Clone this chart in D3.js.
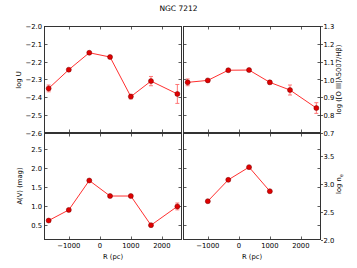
<!DOCTYPE html>
<html><head><meta charset="utf-8">
<script src="https://cdn.jsdelivr.net/npm/d3@7"></script>
<style>body{margin:0;background:#fff}svg{display:block}text{font-family:"DejaVu Sans",sans-serif;fill:#000}</style>
</head><body>
<svg id="c" width="357" height="268"></svg>
<script>
const title = "NGC 7212";
const xTicks = [-1000, 0, 1000, 2000];
const rAll = [-1650, -1000, -340, 330, 1000, 1650, 2500];
const logU = [-2.35, -2.245, -2.15, -2.174, -2.396, -2.309, -2.381];
const logUErr = [0.019, 0.005, 0.005, 0.005, 0.013, 0.026, 0.053];
const oiii = [0.984, 0.995, 1.052, 1.053, 0.984, 0.941, 0.84];
const oiiiErr = [0.019, 0.006, 0.006, 0.006, 0.01, 0.028, 0.03];
const av = [0.613, 0.893, 1.668, 1.259, 1.259, 0.49, 0.985];
const avErr = [0.03, 0.02, 0.02, 0.02, 0.02, 0.02, 0.09];
const rNe = [-1000, -340, 330, 1000];
const logNe = [2.689, 3.068, 3.294, 2.866];
const ticksU = [-2.0, -2.1, -2.2, -2.3, -2.4, -2.5, -2.6];
const ticksO = [0.7, 0.8, 0.9, 1.0, 1.1, 1.2, 1.3];
const ticksAV = [0.5, 1.0, 1.5, 2.0, 2.5];
const ticksNe = [2.0, 2.5, 3.0, 3.5];

const svg = d3.select("#c");
const L = {x0:44, x1:182}, R = {x0:183, x1:321};
const T = {y0:26, y1:133}, B = {y0:133, y1:240};
const xDom = [-1800, 2650];
const fs = 6.8;
const fmt = d => d3.format(".1f")(d).replace("-", "\u2212");
const fmtX = d => String(d).replace("-", "\u2212");

const yU = d3.scaleLinear().domain([-2.6, -2.0]).range([T.y1, T.y0]);
const yO = d3.scaleLinear().domain([0.7, 1.3]).range([T.y1, T.y0]);
const yAV = d3.scaleLinear().domain([0.1, 2.92]).range([B.y1, B.y0]);
const yNe = d3.scaleLinear().domain([2.0, 3.9]).range([B.y1, B.y0]);

function panel(H, V, yPrim, primTicks, showLeftLabels, yTwin, twinTicks, showXLabels) {
  const x = d3.scaleLinear().domain(xDom).range([H.x0, H.x1]);
  const g = svg.append("g");
  const tl = 3.5;
  xTicks.forEach(t => {
    const px = Math.round(x(t)) + 0.5;
    g.append("line").attr("x1", px).attr("x2", px).attr("y1", V.y1).attr("y2", V.y1 - tl).attr("stroke", "#333").attr("stroke-width", 0.8);
    g.append("line").attr("x1", px).attr("x2", px).attr("y1", V.y0).attr("y2", V.y0 + tl).attr("stroke", "#333").attr("stroke-width", 0.8);
  });
  primTicks.forEach(t => {
    const py = Math.round(yPrim(t)) + 0.5;
    g.append("line").attr("x1", H.x0).attr("x2", H.x0 + tl).attr("y1", py).attr("y2", py).attr("stroke", "#333").attr("stroke-width", 0.8);
    g.append("line").attr("x1", H.x1).attr("x2", H.x1 - tl).attr("y1", py).attr("y2", py).attr("stroke", "#333").attr("stroke-width", 0.8);
    if (showLeftLabels) {
      g.append("text").attr("x", H.x0 - 2).attr("y", py).attr("text-anchor", "end").attr("dominant-baseline", "central").attr("font-size", fs).text(fmt(t));
    }
  });
  if (yTwin) {
    twinTicks.forEach(t => {
      const py = Math.round(yTwin(t)) + 0.5;
      g.append("line").attr("x1", H.x1).attr("x2", H.x1 + 2).attr("y1", py).attr("y2", py).attr("stroke", "#333").attr("stroke-width", 0.8);
      g.append("text").attr("x", H.x1 + 2.5).attr("y", py).attr("dominant-baseline", "central").attr("font-size", fs).text(fmt(t));
    });
  }
  if (showXLabels) {
    xTicks.forEach(t => {
      g.append("text").attr("x", x(t)).attr("y", V.y1 + 8).attr("text-anchor", "middle").attr("font-size", fs).text(fmtX(t));
    });
    g.append("text").attr("x", (H.x0 + H.x1) / 2).attr("y", V.y1 + 18.5).attr("text-anchor", "middle").attr("font-size", fs).text("R (pc)");
  }
  g.append("rect").attr("x", H.x0 + 0.5).attr("y", V.y0 + 0.5).attr("width", H.x1 - H.x0 - 1).attr("height", V.y1 - V.y0 - 1)
    .attr("fill", "none").attr("stroke", "#333").attr("stroke-width", 1);
  return x;
}

function series(x, y, xs, ys, errs) {
  const g = svg.append("g");
  if (errs) {
    xs.forEach((xv, i) => {
      const e = errs[i];
      const px = x(xv);
      g.append("line").attr("x1", px).attr("x2", px).attr("y1", y(ys[i] - e)).attr("y2", y(ys[i] + e)).attr("stroke", "#f77").attr("stroke-width", 1);
      [ys[i] - e, ys[i] + e].forEach(v => {
        g.append("line").attr("x1", px - 2).attr("x2", px + 2).attr("y1", y(v)).attr("y2", y(v)).attr("stroke", "#f77").attr("stroke-width", 1);
      });
    });
  }
  const line = d3.line().x((d, i) => x(xs[i])).y(d => y(d));
  g.append("path").attr("d", line(ys)).attr("fill", "none").attr("stroke", "#ff3030").attr("stroke-width", 1);
  g.selectAll("circle").data(ys).join("circle")
    .attr("cx", (d, i) => x(xs[i])).attr("cy", d => y(d)).attr("r", 2.5)
    .attr("fill", "#e00000").attr("stroke", "#700").attr("stroke-width", 0.5);
}

const xTL = panel(L, T, yU, ticksU, true, null, null, false);
series(xTL, yU, rAll, logU, logUErr);
const xTR = panel(R, T, yU, ticksU, false, yO, ticksO, false);
series(xTR, yO, rAll, oiii, oiiiErr);
const xBL = panel(L, B, yAV, ticksAV, true, null, null, true);
series(xBL, yAV, rAll, av, avErr);
const xBR = panel(R, B, yAV, ticksAV, false, yNe, ticksNe, true);
series(xBR, yNe, rNe, logNe, null);

svg.append("text").attr("x", 178.5).attr("y", 11).attr("text-anchor", "middle").attr("font-size", 7.5).text(title);
function ylab(x, y, txt) {
  return svg.append("text").attr("transform", `translate(${x},${y}) rotate(-90)`).attr("text-anchor", "middle").attr("dominant-baseline", "central").attr("font-size", fs).text(txt);
}
ylab(18.5, 80, "log U");
ylab(19.5, 186, "A(V) (mag)");
ylab(339, 79.5, "log ([O III]\u03bb5007/H\u03b2)");
const ne = svg.append("text").attr("transform", `translate(339,184) rotate(-90)`).attr("text-anchor", "middle").attr("dominant-baseline", "central").attr("font-size", fs);
ne.append("tspan").text("log n");
ne.append("tspan").attr("font-size", 5).attr("dy", 1.5).text("e");
</script>
</body></html>
